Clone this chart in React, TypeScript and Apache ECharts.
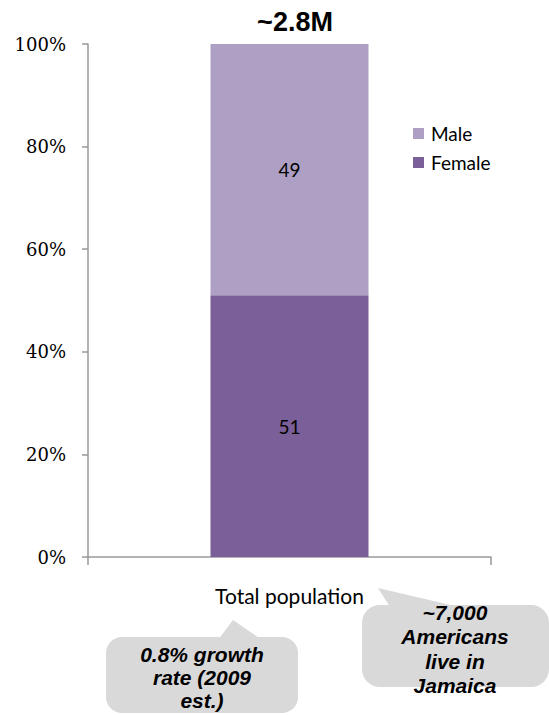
import React, { useEffect, useRef } from "react";
import * as echarts from "echarts";

const categories = ["Total population"];
const femaleShare = [51];
const maleShare = [49];
const yTicks = [0, 20, 40, 60, 80, 100];
const chartTitle = "~2.8M";
const growthNote = ["0.8% growth", "rate (2009", "est.)"];
const americansNote = ["~7,000", "Americans", "live in", "Jamaica"];

const MALE = "#ADA0C4";
const FEMALE = "#7B5F99";
const BUBBLE = "#D9D9D9";
const CALIBRI = "Lato, 'Open Sans', sans-serif";

export default function App() {
  const ref = useRef<HTMLDivElement>(null);

  useEffect(() => {
    if (!ref.current) return;
    const chart = echarts.init(ref.current, null, { renderer: "svg" });

    const noteText = (lines: string[], cx: number, top: number, lh: number) =>
      lines.map((t, i) => ({
        type: "text",
        x: cx,
        y: top + i * lh,
        z: 20,
        style: {
          text: t,
          fill: "#000",
          font: "italic bold 21px 'Liberation Sans', Arial, sans-serif",
          textAlign: "center",
          textVerticalAlign: "middle",
        },
      }));

    chart.setOption({
      animation: false,
      title: {
        text: chartTitle,
        left: 290,
        top: 3,
        textAlign: "center",
        textStyle: {
          fontFamily: "'Liberation Sans', Arial, sans-serif",
          fontWeight: "bold",
          fontSize: 27,
          color: "#000",
        },
      },
      legend: {
        data: ["Male", "Female"],
        orient: "vertical",
        left: 408,
        top: 119,
        itemWidth: 11,
        itemHeight: 11,
        itemGap: 10,
        icon: "rect",
        textStyle: { fontFamily: CALIBRI, fontSize: 19, color: "#000", padding: [0, 0, 0, 2] },
      },
      grid: { left: 88, right: 58, top: 44, bottom: 158, containLabel: false },
      xAxis: {
        type: "category",
        data: categories,
        axisLine: { lineStyle: { color: "#999", width: 1.5 } },
        axisTick: { show: true, length: 8, lineStyle: { color: "#999", width: 1.5 } },
        axisLabel: { fontFamily: CALIBRI, fontSize: 21, color: "#000", margin: 28 },
      },
      yAxis: {
        type: "value",
        min: 0,
        max: 100,
        interval: 20,
        axisLine: { show: true, lineStyle: { color: "#999", width: 1.5 } },
        axisTick: { show: true, length: 6, lineStyle: { color: "#999", width: 1.5 } },
        splitLine: { show: false },
        axisLabel: {
          formatter: (v: number) => (yTicks.includes(v) ? `${v}%` : ""),
          fontFamily: "'DejaVu Serif', serif",
          fontSize: 18,
          color: "#000",
          margin: 22,
        },
      },
      series: [
        {
          name: "Female",
          type: "bar",
          stack: "total",
          data: femaleShare,
          barWidth: 158,
          itemStyle: { color: FEMALE },
          label: {
            show: true,
            position: "inside",
            fontFamily: CALIBRI,
            fontSize: 19,
            color: "#000",
          },
        },
        {
          name: "Male",
          type: "bar",
          stack: "total",
          data: maleShare,
          barWidth: 158,
          itemStyle: { color: MALE },
          label: {
            show: true,
            position: "inside",
            fontFamily: CALIBRI,
            fontSize: 19,
            color: "#000",
          },
        },
      ],
      graphic: [
        // growth-rate bubble
        {
          type: "polygon",
          z: 10,
          shape: { points: [[233, 620], [218, 640], [262, 640]] },
          style: { fill: BUBBLE },
        },
        {
          type: "rect",
          z: 10,
          shape: { x: 106, y: 637, width: 192, height: 76, r: 16 },
          style: { fill: BUBBLE },
        },
        ...noteText(growthNote, 202, 654, 23),
        // Americans bubble
        {
          type: "polygon",
          z: 10,
          shape: { points: [[378, 588], [392, 610], [472, 610]] },
          style: { fill: BUBBLE },
        },
        {
          type: "rect",
          z: 10,
          shape: { x: 362, y: 605, width: 187, height: 82, r: 18 },
          style: { fill: BUBBLE },
        },
        ...noteText(americansNote, 455, 612, 24.5),
      ],
    });

    return () => chart.dispose();
  }, []);

  return (
    <div
      ref={ref}
      style={{ position: "absolute", left: 0, top: 0, width: 549, height: 715 }}
    />
  );
}
